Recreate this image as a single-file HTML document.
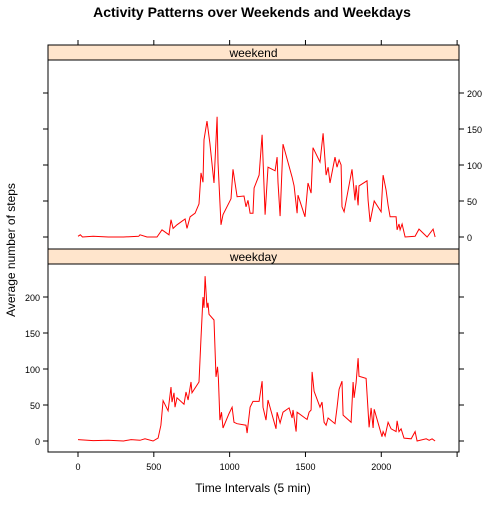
<!DOCTYPE html>
<html><head><meta charset="utf-8"><style>
body{margin:0;background:#fff}
svg text{font-family:"Liberation Sans",sans-serif}
</style></head><body>
<svg id="c" width="504" height="504" xmlns="http://www.w3.org/2000/svg">
<text x="252" y="17" text-anchor="middle" font-size="14" font-weight="bold">Activity Patterns over Weekends and Weekdays</text>
<text x="253" y="492" text-anchor="middle" font-size="12">Time Intervals (5 min)</text>
<text transform="translate(15,250) rotate(-90)" text-anchor="middle" font-size="12">Average number of steps</text>
</svg>
<script>
const weekendIntervals=[0,15,30,100,200,300,400,409,455,521,554,600,613,627,653,706,719,739,772,798,811,824,831,851,870,897,917,923,943,956,1009,1022,1049,1095,1108,1121,1135,1154,1161,1194,1214,1234,1253,1300,1313,1319,1333,1352,1412,1425,1445,1451,1497,1517,1537,1550,1596,1616,1636,1649,1662,1695,1708,1722,1735,1741,1755,1807,1827,1834,1847,1853,1906,1913,1926,1953,1999,2012,2032,2045,2058,2098,2104,2117,2124,2137,2157,2223,2249,2302,2342,2355];
const weekendSteps=[1,3,0,1,0,0,1,3,0,0,10,3,24,12,17,25,12,28,33,46,89,76,135,161,130,75,167,104,17,31,53,94,56,57,42,51,33,33,68,86,142,31,97,92,111,76,29,129,83,71,33,58,28,75,61,124,104,144,86,97,75,111,97,107,100,42,35,94,51,72,44,71,78,51,21,50,35,86,65,44,28,28,10,18,10,18,0,1,11,0,11,0];
const weekdayIntervals=[0,100,200,300,350,409,442,495,528,547,561,594,613,620,633,640,653,699,712,726,745,752,798,811,824,831,838,851,857,864,897,910,920,926,936,946,956,996,1016,1029,1049,1108,1115,1135,1154,1194,1214,1220,1240,1253,1306,1313,1333,1352,1392,1412,1418,1438,1445,1497,1511,1524,1537,1544,1557,1596,1609,1623,1636,1649,1695,1708,1722,1741,1748,1801,1814,1821,1834,1847,1853,1900,1920,1933,1946,1953,2005,2012,2025,2045,2065,2098,2104,2117,2131,2150,2197,2223,2236,2296,2316,2335,2355];
const weekdaySteps=[2,0.5,1,0,2,1,3,0,4,22,56,42,75,54,67,47,60,51,68,57,82,67,82,143,200,185,229,185,192,176,168,89,103,87,29,40,18,38,47,26,24,22,11,47,55,55,83,47,29,57,17,40,25,40,46,32,43,13,40,32,30,40,43,96,69,47,54,26,22,32,24,46,72,83,36,26,82,60,81,115,90,87,19,46,18,44,6,13,7,26,17,13,28,13,17,4,3,13,0,3,1,3,0];
const xTicks=[0,500,1000,1500,2000];
const yTicks=[0,50,100,150,200];
const NS='http://www.w3.org/2000/svg';
const svg=document.getElementById('c');
const L=48,R=459;
const xs=v=>78+v*0.15164;
const panels=[{name:'weekend',stripTop:45,top:60,bottom:249,base:237,xi:weekendIntervals,ys:weekendSteps,right:true},
{name:'weekday',stripTop:249,top:264,bottom:452,base:441,xi:weekdayIntervals,ys:weekdaySteps,right:false}];
function mk(t,a,p){const e=document.createElementNS(NS,t);for(const k in a)e.setAttribute(k,a[k]);(p||svg).appendChild(e);return e;}
panels.forEach(p=>{
 const ys=v=>p.base-v*0.72;
 const s=mk('rect',{x:L,y:p.stripTop,width:R-L,height:15,fill:'#ffe5cc',stroke:'#000','stroke-width':1});
 
 
 const st=mk('text',{x:(L+R)/2,y:p.stripTop+12,'text-anchor':'middle','font-size':12});
 st.textContent=p.name;
 
 
 const fr=mk('rect',{x:L,y:p.top,width:R-L,height:p.bottom-p.top,fill:'none',stroke:'#000','stroke-width':1});
 
 
 yTicks.forEach(v=>{
  const y=ys(v);
  mk('line',{x1:L-5,x2:L,y1:y,y2:y,stroke:'#000'});
  mk('line',{x1:R,x2:R+5,y1:y,y2:y,stroke:'#000'});
  const lab=p.right;
  const t=mk('text',{x:lab?R+8:L-8,y:y+4,'text-anchor':lab?'start':'end','font-size':9});
  t.textContent=v;
  
  
 });
 const d=p.xi.map((v,i)=>(i?'L':'M')+xs(v).toFixed(1)+','+ys(p.ys[i]).toFixed(1)).join('');
 const line=mk('path',{d:d,fill:'none',stroke:'#ff0000','stroke-width':1});
 
 
});
xTicks.concat([2500]).forEach(v=>{
 const x=xs(v);
 mk('line',{x1:x,x2:x,y1:452,y2:457,stroke:'#000'});
 mk('line',{x1:x,x2:x,y1:40,y2:45,stroke:'#000'});
 if(v<=2000){const t=mk('text',{x:x,y:470,'text-anchor':'middle','font-size':9});
 t.textContent=v;
 
 }
});
</script>
</body></html>
